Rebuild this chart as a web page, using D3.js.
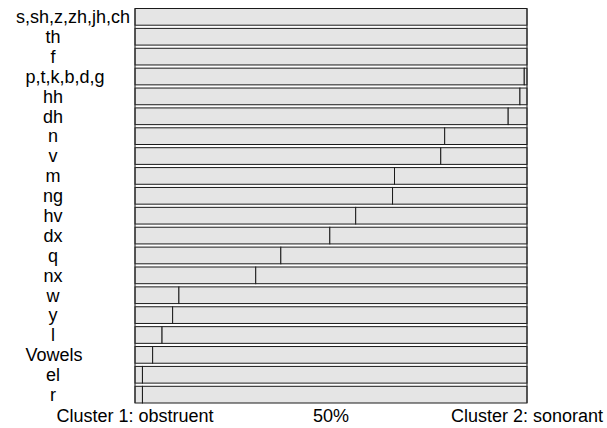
<!DOCTYPE html>
<html>
<head>
<meta charset="utf-8">
<script src="https://cdn.jsdelivr.net/npm/d3@7"></script>
<style>
  body { margin: 0; background: #fff; }
  text { font-family: "Liberation Sans", Arial, sans-serif; }
</style>
</head>
<body>
<script>
// phone classes, top to bottom
var categories = ["s,sh,z,zh,jh,ch", "th", "f", "p,t,k,b,d,g", "hh", "dh", "n", "v",
    "m", "ng", "hv", "dx", "q", "nx", "w", "y", "l", "Vowels", "el", "r"];
// share assigned to cluster 1 (obstruent)
var cluster1 = [1.0, 1.0, 1.0, 0.993, 0.982, 0.952, 0.790, 0.780, 0.662, 0.657,
    0.563, 0.497, 0.372, 0.308, 0.112, 0.096, 0.069, 0.045, 0.019, 0.019];
var tickValues = [0, 0.5, 1];
var tickLabels = ["Cluster 1: obstruent", "50%", "Cluster 2: sonorant"];

var svgWidth = 607;
var svgHeight = 428;
var plotLeft = 135, plotRight = 527, plotTop = 8.5, plotBottom = 403;

var svg = d3.select("body")
    .append("svg")
    .attr("width", svgWidth)
    .attr("height", svgHeight);

var xScale = d3.scaleLinear()
    .domain([0, 1])
    .range([plotLeft, plotRight]);

var yScale = d3.scaleBand()
    .domain(categories)
    .range([plotTop, plotBottom])
    .paddingInner(0.16)
    .paddingOuter(0);

var data = categories.map(function(c, i) { return {name: c, v: cluster1[i]}; });

var rows = svg.selectAll("g.row")
    .data(data)
    .enter()
    .append("g")
    .attr("class", "row");

rows.append("rect")
    .attr("x", xScale(0))
    .attr("y", d => yScale(d.name))
    .attr("width", d => xScale(d.v) - xScale(0))
    .attr("height", yScale.bandwidth())
    .attr("fill", "#e5e5e5")
    .attr("stroke", "#1a1a1a")
    .attr("stroke-width", 1);

rows.filter(d => d.v < 1).append("rect")
    .attr("x", d => xScale(d.v))
    .attr("y", d => yScale(d.name))
    .attr("width", d => xScale(1) - xScale(d.v))
    .attr("height", yScale.bandwidth())
    .attr("fill", "#e5e5e5")
    .attr("stroke", "#1a1a1a")
    .attr("stroke-width", 1);

// side lines
svg.selectAll("line.side")
    .data([0, 1])
    .enter()
    .append("line")
    .attr("class", "side")
    .attr("x1", d => xScale(d))
    .attr("x2", d => xScale(d))
    .attr("y1", plotTop)
    .attr("y2", plotBottom)
    .attr("stroke", "#333")
    .attr("stroke-width", 1.2);

// row labels
var labels = rows.append("text")
    .text(d => d.name)
    .attr("y", d => yScale(d.name) + yScale.bandwidth() / 2)
    .attr("dy", "0.35em")
    .attr("text-anchor", "middle")
    .attr("font-size", "18px")
    .attr("fill", "#000");

labels.attr("x", function() {
    var w = this.getComputedTextLength();
    return 53 + Math.min(20, Math.max(0, (w - 55) * 0.5));
});

// bottom axis labels
svg.selectAll("text.tick")
    .data(tickValues)
    .enter()
    .append("text")
    .attr("class", "tick")
    .attr("x", d => xScale(d))
    .attr("y", 422)
    .attr("text-anchor", "middle")
    .attr("font-size", "18px")
    .attr("fill", "#000")
    .text((d, i) => tickLabels[i]);
</script>
</body>
</html>
